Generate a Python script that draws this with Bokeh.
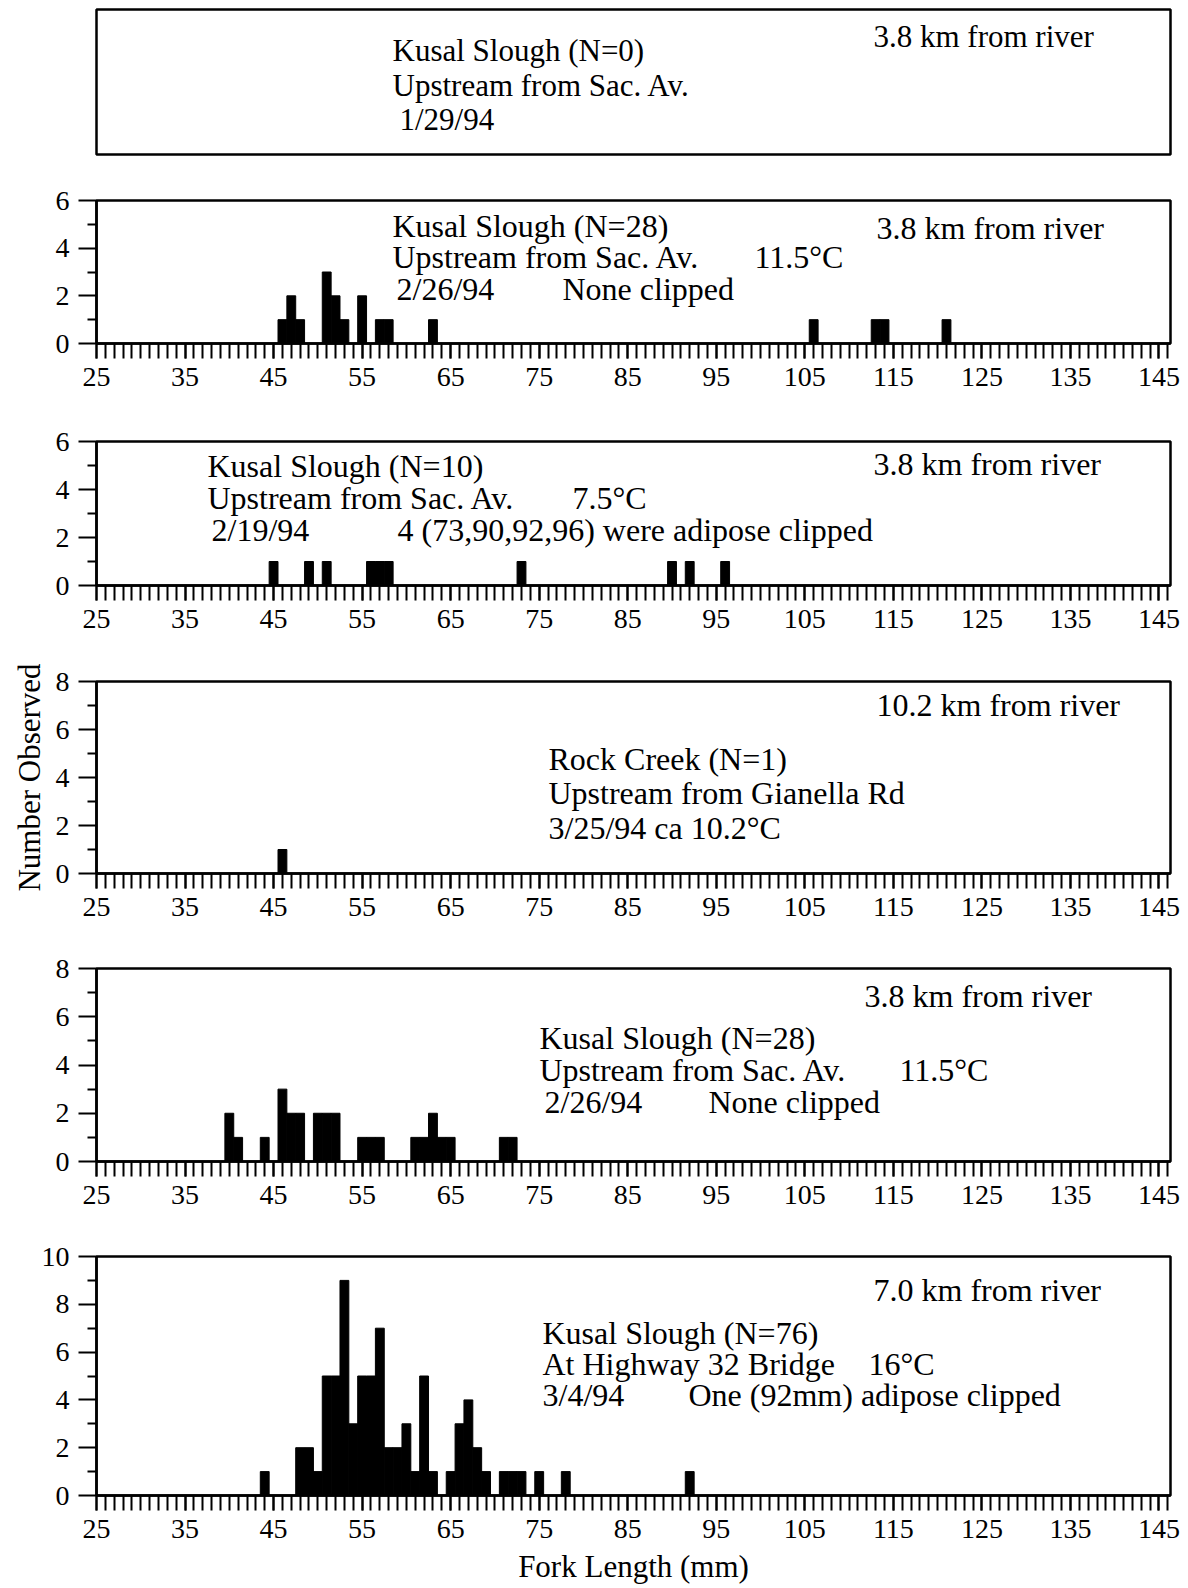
from bokeh.plotting import figure
from bokeh.models import Range1d, FixedTicker, Label
from bokeh.layouts import column
from bokeh.embed import file_html
from bokeh.resources import INLINE

# ---------------- data (fork length mm -> number observed) ----------------
P2_LEN = [46, 47, 48, 51, 52, 53, 55, 57, 58, 63, 106, 113, 114, 121]
P2_CNT = [1, 2, 1, 3, 2, 1, 2, 1, 1, 1, 1, 1, 1, 1]

P3_LEN = [45, 49, 51, 56, 57, 58, 73, 90, 92, 96]
P3_CNT = [1, 1, 1, 1, 1, 1, 1, 1, 1, 1]

P4_LEN = [46]
P4_CNT = [1]

P5_LEN = [40, 41, 44, 46, 47, 48, 50, 51, 52, 55, 56, 57, 61, 62, 63, 64, 65, 71, 72]
P5_CNT = [2, 1, 1, 3, 2, 2, 2, 2, 2, 1, 1, 1, 1, 1, 2, 1, 1, 1, 1]

P6_LEN = [44, 48, 49, 50, 51, 52, 53, 54, 55, 56, 57, 58, 59, 60, 61, 62, 63,
          65, 66, 67, 68, 69, 71, 72, 73, 75, 78, 92]
P6_CNT = [1, 2, 2, 1, 5, 5, 9, 3, 5, 5, 7, 2, 2, 3, 1, 5, 1,
          1, 3, 4, 2, 1, 1, 1, 1, 1, 1, 1]

X_TICKS = [25, 35, 45, 55, 65, 75, 85, 95, 105, 115, 125, 135, 145]
X_MIN, X_MAX = 25, 146.3

FONT = "Liberation Serif"
W = 1180
BL, BR = 96, 10
FRAME_W = W - BL - BR
PAGE_FL = BL
PXMM = FRAME_W / (X_MAX - X_MIN)


def px2x(px):
    return X_MIN + (px - PAGE_FL) / PXMM


def make_fig(h, top, bottom, ymax, axes=True):
    kw = dict(width=W, height=h, x_range=Range1d(X_MIN, X_MAX), y_range=Range1d(0, ymax),
              min_border_left=BL, min_border_right=BR, min_border_top=top,
              min_border_bottom=bottom, toolbar_location=None, output_backend="svg",
              title=None)
    if not axes:
        kw.update(x_axis_type=None, y_axis_type=None)
    p = figure(**kw)
    p.grid.visible = False
    p.outline_line_color = "black"
    p.outline_line_width = 2.5
    p.outline_line_alpha = 1
    p.background_fill_color = "white"
    p.border_fill_color = "white"
    if axes:
        xa = p.xaxis[0]
        xa.ticker = FixedTicker(ticks=X_TICKS, minor_ticks=list(range(25, 147)))
        xa.major_tick_out = 15
        xa.major_tick_in = 0
        xa.minor_tick_out = 15
        xa.minor_tick_in = 0
        xa.major_tick_line_width = 2
        xa.minor_tick_line_width = 2
        xa.axis_line_width = 2.5
        xa.major_label_text_font = FONT
        xa.major_label_text_font_size = "28px"
        xa.major_label_text_color = "black"
        xa.major_label_standoff = 9
        ya = p.yaxis[0]
        ya.ticker = FixedTicker(ticks=list(range(0, ymax + 1, 2)),
                                minor_ticks=list(range(1, ymax, 2)))
        ya.major_tick_out = 18
        ya.major_tick_in = 0
        ya.minor_tick_out = 9
        ya.minor_tick_in = 0
        ya.major_tick_line_width = 2
        ya.minor_tick_line_width = 2
        ya.axis_line_width = 2.5
        ya.major_label_text_font = FONT
        ya.major_label_text_font_size = "28px"
        ya.major_label_text_color = "black"
        ya.major_label_standoff = 9
    return p


def add_texts(p, ftop, fbot, ymax, items, size="32px"):
    for (px, py, txt) in items:
        y = ymax * (fbot - py) / (fbot - ftop)
        p.add_layout(Label(x=px2x(px), y=y, text=txt, text_font=FONT,
                           text_font_size=size, text_baseline="middle",
                           text_align="left", text_color="black"))


def bars(p, lens, cnts):
    p.vbar(x=lens, top=cnts, bottom=0, width=1.0, fill_color="black",
           line_color="black", line_width=1)


# panel 1 (no fish)
p1 = make_fig(175, 9, 21, 1, axes=False)
p1.scatter([0], [0], size=0, alpha=0)
add_texts(p1, 9, 154, 1, [
    (392, 50, "Kusal Slough (N=0)"),
    (392, 85, "Upstream from Sac. Av."),
    (399, 119, "1/29/94"),
    (873, 36, "3.8 km from river"),
], size="31px")

# panel 2
p2 = make_fig(245, 25, 77, 6)
bars(p2, P2_LEN, P2_CNT)
add_texts(p2, 200, 343, 6, [
    (392, 225, "Kusal Slough (N=28)"),
    (392, 256, "Upstream from Sac. Av."),
    (754, 256, "11.5°C"),
    (396, 288, "2/26/94"),
    (562, 288, "None clipped"),
    (876, 227, "3.8 km from river"),
])

# panel 3
p3 = make_fig(230, 21, 65, 6)
bars(p3, P3_LEN, P3_CNT)
add_texts(p3, 441, 585, 6, [
    (207, 465, "Kusal Slough (N=10)"),
    (207, 497, "Upstream from Sac. Av."),
    (572, 497, "7.5°C"),
    (211, 529, "2/19/94"),
    (397, 529, "4 (73,90,92,96) were adipose clipped"),
    (873, 463, "3.8 km from river"),
])

# panel 4
p4 = make_fig(285, 31, 62, 8)
bars(p4, P4_LEN, P4_CNT)
p4.yaxis[0].axis_label = "Number Observed"
p4.yaxis[0].axis_label_text_font = FONT
p4.yaxis[0].axis_label_text_font_size = "31px"
p4.yaxis[0].axis_label_text_font_style = "normal"
p4.yaxis[0].axis_label_text_color = "black"
p4.yaxis[0].axis_label_standoff = 6
add_texts(p4, 681, 873, 8, [
    (876, 704, "10.2 km from river"),
    (548, 758, "Rock Creek  (N=1)"),
    (548, 792, "Upstream from Gianella Rd"),
    (548, 827, "3/25/94  ca 10.2°C"),
])

# panel 5
p5 = make_fig(290, 33, 64, 8)
bars(p5, P5_LEN, P5_CNT)
add_texts(p5, 968, 1161, 8, [
    (864, 995, "3.8 km from river"),
    (539, 1037, "Kusal Slough (N=28)"),
    (539, 1069, "Upstream from Sac. Av."),
    (899, 1069, "11.5°C"),
    (544, 1101, "2/26/94"),
    (708, 1101, "None clipped"),
])

# panel 6
p6 = make_fig(361, 31, 89, 10)
bars(p6, P6_LEN, P6_CNT)
p6.xaxis[0].axis_label = "Fork Length (mm)"
p6.xaxis[0].axis_label_text_font = FONT
p6.xaxis[0].axis_label_text_font_size = "31px"
p6.xaxis[0].axis_label_text_font_style = "normal"
p6.xaxis[0].axis_label_text_color = "black"
p6.xaxis[0].axis_label_standoff = 8
add_texts(p6, 1256, 1497, 10, [
    (873, 1290, "7.0 km from river"),
    (542, 1333, "Kusal Slough (N=76)"),
    (542, 1364, "At Highway 32 Bridge"),
    (868, 1364, "16°C"),
    (542, 1396, "3/4/94"),
    (688, 1396, "One (92mm) adipose clipped"),
])

layout = column(p1, p2, p3, p4, p5, p6, spacing=0)
open("out.html", "w").write(file_html(layout, INLINE))
